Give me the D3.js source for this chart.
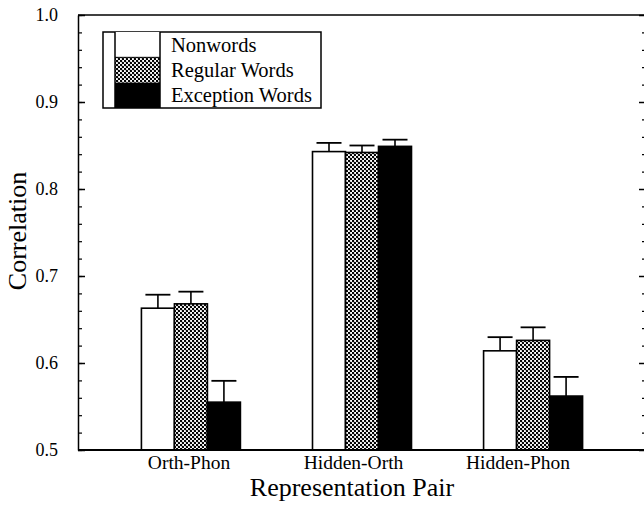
<!DOCTYPE html>
<html><head><meta charset="utf-8">
<script src="https://cdn.jsdelivr.net/npm/d3@7"></script>
<style>body{margin:0;background:#fff}svg{display:block}svg text{font-family:"Times New Roman",Times,"Liberation Serif",serif !important;fill:#000}</style>
</head><body><svg id="c" width="644" height="505"></svg>
<script>
const categories = ["Orth-Phon", "Hidden-Orth", "Hidden-Phon"];
const seriesNames = ["Nonwords", "Regular Words", "Exception Words"];
const nonwords = [0.663, 0.843, 0.614];
const regularWords = [0.668, 0.842, 0.626];
const exceptionWords = [0.555, 0.849, 0.562];
const nonwordsErr = [0.0155, 0.010, 0.0157];
const regularErr = [0.014, 0.008, 0.015];
const exceptionErr = [0.0245, 0.0077, 0.022];
const yTicks = [0.5, 0.6, 0.7, 0.8, 0.9, 1.0];
const yMinorTicks = d3.range(25, 51).map(d => d / 50);

const series = [
  {name: seriesNames[0], values: nonwords, err: nonwordsErr, fill: "#fff"},
  {name: seriesNames[1], values: regularWords, err: regularErr, fill: "url(#dots)"},
  {name: seriesNames[2], values: exceptionWords, err: exceptionErr, fill: "#000"}
];

const FONT = '"Times New Roman", Times, "Liberation Serif", serif';
const svg = d3.select("#c").attr("font-family", FONT);
const L = 78, R = 646, T = 15, B = 450;
const defs = svg.append("defs");
const pat = defs.append("pattern").attr("id", "dots").attr("patternUnits", "userSpaceOnUse")
  .attr("width", 4).attr("height", 4);
pat.append("rect").attr("width", 4).attr("height", 4).attr("fill", "#fff");
pat.append("circle").attr("cx", 1).attr("cy", 1).attr("r", 1.25).attr("fill", "#000");
pat.append("circle").attr("cx", 3).attr("cy", 3).attr("r", 1.25).attr("fill", "#000");

const y = d3.scaleLinear().domain([0.5, 1.0]).range([B, T]);
const x = d3.scalePoint().domain(categories).range([L, R]).padding(0.66);
const xLab = d3.scalePoint().domain(categories).range([189, 518]);
const bw = 33;
const sub = d3.scaleBand().domain(seriesNames).range([-1.5 * bw, 1.5 * bw]);

// bars
series.forEach(s => {
  const g = svg.append("g");
  categories.forEach((c, i) => {
    const x0 = x(c) + sub(s.name);
    const cx = x0 + bw / 2;
    const top = y(s.values[i]), capY = y(s.values[i] + s.err[i]);
    g.append("line").attr("x1", cx).attr("x2", cx).attr("y1", top).attr("y2", capY)
      .attr("stroke", "#000").attr("stroke-width", 1.6);
    g.append("line").attr("x1", cx - 12.5).attr("x2", cx + 12.5).attr("y1", capY).attr("y2", capY)
      .attr("stroke", "#000").attr("stroke-width", 1.8);
    g.append("rect").attr("x", x0).attr("y", top).attr("width", bw).attr("height", B - top)
      .attr("fill", s.fill).attr("stroke", "#000").attr("stroke-width", 1.6);
  });
});

// frame
svg.append("line").attr("x1", L).attr("x2", R).attr("y1", T).attr("y2", T).attr("stroke", "#000").attr("stroke-width", 1.5);
svg.append("line").attr("x1", L).attr("x2", R).attr("y1", B).attr("y2", B).attr("stroke", "#000").attr("stroke-width", 2);

// left axis
const leftMajor = svg.append("g").attr("transform", `translate(${L},0)`)
  .call(d3.axisLeft(y).tickValues(yTicks).tickFormat(d3.format(".1f")).tickSizeInner(-7).tickSizeOuter(0).tickPadding(20));
leftMajor.attr("font-family", FONT);
leftMajor.select(".domain").attr("stroke-width", 1.5);
leftMajor.selectAll(".tick line").attr("stroke-width", 1.5);
leftMajor.selectAll("text").attr("font-size", 18);
const leftMinor = svg.append("g").attr("transform", `translate(${L},0)`)
  .call(d3.axisLeft(y).tickValues(yMinorTicks).tickFormat("").tickSizeInner(-4).tickSizeOuter(0));
leftMinor.select(".domain").remove();
leftMinor.selectAll(".tick line").attr("stroke-width", 1.2);

// right axis
const rightMajor = svg.append("g").attr("transform", `translate(${R},0)`)
  .call(d3.axisRight(y).tickValues(yTicks).tickFormat("").tickSizeInner(-7).tickSizeOuter(0));
rightMajor.selectAll(".tick line").attr("stroke-width", 1.5);
const rightMinor = svg.append("g").attr("transform", `translate(${R},0)`)
  .call(d3.axisRight(y).tickValues(yMinorTicks).tickFormat("").tickSizeInner(-4).tickSizeOuter(0));
rightMinor.select(".domain").remove();
rightMinor.selectAll(".tick line").attr("stroke-width", 1.2);

// x labels
svg.append("g").selectAll("text").data(categories).join("text")
  .attr("x", d => xLab(d)).attr("y", 468.5).attr("text-anchor", "middle").attr("font-size", 19.5).text(d => d);
svg.append("text").attr("x", 352).attr("y", 496).attr("text-anchor", "middle").attr("font-size", 26).text("Representation Pair");
svg.append("text").attr("transform", "translate(26,231) rotate(-90)").attr("text-anchor", "middle").attr("font-size", 26).text("Correlation");

// legend
const lg = svg.append("g");
const lx = 103, ly = 32, lw = 218, lh = 76, rowH = lh / 3;
lg.append("rect").attr("x", lx).attr("y", ly).attr("width", lw).attr("height", lh).attr("fill", "#fff").attr("stroke", "#000").attr("stroke-width", 1.5);
series.forEach((s, i) => {
  lg.append("rect").attr("x", lx + 12).attr("y", ly + i * rowH).attr("width", 45).attr("height", rowH)
    .attr("fill", s.fill).attr("stroke", "none");
  lg.append("text").attr("x", lx + 68).attr("y", ly + i * rowH + rowH / 2 + 7).attr("font-size", 20.5).text(s.name);
});
lg.append("line").attr("x1", lx + 12).attr("x2", lx + 12).attr("y1", ly).attr("y2", ly + lh).attr("stroke", "#000").attr("stroke-width", 1.5);
lg.append("line").attr("x1", lx + 57).attr("x2", lx + 57).attr("y1", ly).attr("y2", ly + lh).attr("stroke", "#000").attr("stroke-width", 1.5);
lg.append("line").attr("x1", lx + 12).attr("x2", lx + 57).attr("y1", ly + rowH).attr("y2", ly + rowH).attr("stroke", "#000").attr("stroke-width", 1);
</script></body></html>
